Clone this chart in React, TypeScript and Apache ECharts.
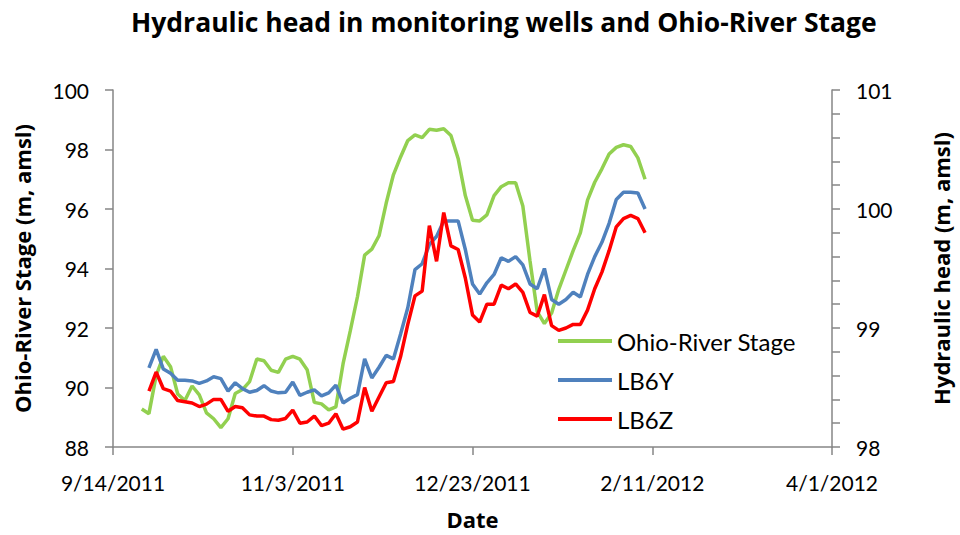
import React, { useEffect, useRef } from "react";
import * as echarts from "echarts";

const dates = [
  "2011-09-22", "2011-09-24", "2011-09-26", "2011-09-28", "2011-09-30",
  "2011-10-02", "2011-10-04", "2011-10-06", "2011-10-08", "2011-10-10",
  "2011-10-12", "2011-10-14", "2011-10-16", "2011-10-18", "2011-10-20",
  "2011-10-22", "2011-10-24", "2011-10-26", "2011-10-28", "2011-10-30",
  "2011-11-01", "2011-11-03", "2011-11-05", "2011-11-07", "2011-11-09",
  "2011-11-11", "2011-11-13", "2011-11-15", "2011-11-17", "2011-11-19",
  "2011-11-21", "2011-11-23", "2011-11-25", "2011-11-27", "2011-11-29",
  "2011-12-01", "2011-12-03", "2011-12-05", "2011-12-07", "2011-12-09",
  "2011-12-11", "2011-12-13", "2011-12-15", "2011-12-17", "2011-12-19",
  "2011-12-21", "2011-12-23", "2011-12-25", "2011-12-27", "2011-12-29",
  "2011-12-31", "2012-01-02", "2012-01-04", "2012-01-06", "2012-01-08",
  "2012-01-10", "2012-01-12", "2012-01-14", "2012-01-16", "2012-01-18",
  "2012-01-20", "2012-01-22", "2012-01-24", "2012-01-26", "2012-01-28",
  "2012-01-30", "2012-02-01", "2012-02-03", "2012-02-05", "2012-02-07",
  "2012-02-09",
];

const riverStage = [
  89.28, 89.12, 90.4, 91.05, 90.7, 89.78, 89.56, 90.05, 89.75, 89.15,
  88.95, 88.65, 88.95, 89.8, 89.93, 90.2, 90.96, 90.9, 90.58, 90.51,
  90.95, 91.05, 90.95, 90.6, 89.5, 89.45, 89.25, 89.35, 90.8, 91.9,
  93.05, 94.45, 94.65, 95.1, 96.2, 97.15, 97.75, 98.3, 98.49, 98.4,
  98.68, 98.65, 98.7, 98.47, 97.7, 96.45, 95.62, 95.6, 95.8, 96.45,
  96.75, 96.88, 96.88, 96.1, 94.25, 92.55, 92.15, 92.5, 93.3, 93.95,
  94.6, 95.2, 96.3, 96.9, 97.35, 97.85, 98.07, 98.16, 98.1, 97.72,
  97.0,
];

const lb6y = [
  null, 98.665, 98.82, 98.655, 98.62, 98.56, 98.56, 98.555, 98.535, 98.555,
  98.59, 98.575, 98.47, 98.54, 98.49, 98.46, 98.475, 98.515, 98.47, 98.455,
  98.46, 98.546, 98.434, 98.46, 98.48, 98.43, 98.455, 98.52, 98.37, 98.41,
  98.44, 98.74, 98.58, 98.67, 98.77, 98.74, 98.95, 99.17, 99.49, 99.54,
  99.7, 99.77, 99.9, 99.9, 99.9, 99.66, 99.37, 99.285, 99.38, 99.45,
  99.59, 99.56, 99.6, 99.53, 99.37, 99.33, 99.5, 99.24, 99.2, 99.24,
  99.3, 99.26, 99.45, 99.6, 99.72, 99.88, 100.08, 100.14, 100.14, 100.135,
  100.0,
];

const lb6z = [
  null, 98.47, 98.63, 98.49, 98.47, 98.39, 98.38, 98.37, 98.34, 98.36,
  98.4, 98.4, 98.3, 98.34, 98.33, 98.27, 98.26, 98.26, 98.23, 98.225,
  98.24, 98.31, 98.2, 98.21, 98.26, 98.18, 98.2, 98.28, 98.15, 98.17,
  98.21, 98.5, 98.3, 98.42, 98.54, 98.55, 98.76, 99.03, 99.27, 99.31,
  99.86, 99.56, 99.97, 99.69, 99.66, 99.42, 99.11, 99.05, 99.2, 99.2,
  99.36, 99.33, 99.37, 99.3, 99.13, 99.1, 99.28, 99.02, 98.98, 99.0,
  99.03, 99.03, 99.15, 99.33, 99.47, 99.65, 99.85, 99.92, 99.946, 99.92,
  99.8,
];

const xAxisStart = "2011-09-14";
const xAxisEnd = "2012-04-01";
const xTickDays = 50;

const FONT = "Lato, 'Open Sans', sans-serif";
const BOLD_FONT = "'Open Sans', Lato, sans-serif";
const AXIS_COLOR = "#868686";

function ts(s: string): number {
  const [y, m, d] = s.split("-").map(Number);
  return Date.UTC(y, m - 1, d);
}

const DAY = 86400000;

function pairs(vals: (number | null)[]) {
  return dates.map((d, i) => [ts(d), vals[i]]);
}

export default function App() {
  const ref = useRef<HTMLDivElement>(null);

  useEffect(() => {
    if (!ref.current) return;
    const chart = echarts.init(ref.current, undefined, { renderer: "svg" });
    const axisCommon = {
      axisLine: { show: true, lineStyle: { color: AXIS_COLOR, width: 1.5 } },
      axisTick: { show: true, length: 8, lineStyle: { color: AXIS_COLOR, width: 1.5 } },
      splitLine: { show: false },
    };
    const nameStyle = { fontFamily: BOLD_FONT, fontWeight: "bold", fontSize: 22, color: "#000" };
    chart.setOption({
      animation: false,
      backgroundColor: "#ffffff",
      title: {
        text: "Hydraulic head in monitoring wells and Ohio-River Stage",
        left: 126,
        top: 3,
        textStyle: { fontFamily: BOLD_FONT, fontWeight: "bold", fontSize: 26.5, color: "#000" },
      },
      grid: { left: 113, right: 127, top: 90, bottom: 86.5, containLabel: false },
      legend: {
        orient: "vertical",
        left: 553,
        top: 324,
        itemWidth: 54,
        itemHeight: 4,
        itemGap: 15,
        icon: "rect",
        textStyle: { fontFamily: FONT, fontSize: 24, color: "#000" },
        data: ["Ohio-River Stage", "LB6Y", "LB6Z"],
      },
      xAxis: {
        type: "value",
        min: ts(xAxisStart),
        max: ts(xAxisEnd),
        interval: xTickDays * DAY,
        ...axisCommon,
        axisLabel: {
          margin: 25,
          fontFamily: FONT,
          fontSize: 21,
          color: "#000",
          formatter: (v: number) => {
            const d = new Date(v);
            return `${d.getUTCMonth() + 1}/${d.getUTCDate()}/${d.getUTCFullYear()}`;
          },
        },
        name: "Date",
        nameLocation: "middle",
        nameGap: 61,
        nameTextStyle: nameStyle,
      },
      yAxis: [
        {
          type: "value",
          position: "left",
          min: 88,
          max: 100,
          interval: 2,
          ...axisCommon,
          axisLabel: { margin: 24, fontFamily: FONT, fontSize: 21, color: "#000" },
          name: "Ohio-River Stage (m, amsl)",
          nameLocation: "middle",
          nameRotate: 90,
          nameGap: 80,
          nameTextStyle: nameStyle,
        },
        {
          type: "value",
          position: "right",
          min: 98,
          max: 101,
          interval: 0.2,
          ...axisCommon,
          axisLabel: {
            margin: 24,
            fontFamily: FONT,
            fontSize: 21,
            color: "#000",
            formatter: (v: number) =>
              Math.abs(v - Math.round(v)) < 1e-6 ? String(Math.round(v)) : "",
          },
          name: "Hydraulic head (m, amsl)",
          nameLocation: "middle",
          nameRotate: 90,
          nameGap: 98,
          nameTextStyle: nameStyle,
        },
      ],
      series: [
        {
          name: "Ohio-River Stage",
          type: "line",
          yAxisIndex: 0,
          data: pairs(riverStage),
          symbol: "none",
          showSymbol: false,
          lineStyle: { color: "#92D050", width: 3.5 },
          itemStyle: { color: "#92D050" },
        },
        {
          name: "LB6Y",
          type: "line",
          yAxisIndex: 1,
          data: pairs(lb6y),
          symbol: "none",
          showSymbol: false,
          lineStyle: { color: "#4F81BD", width: 3.5 },
          itemStyle: { color: "#4F81BD" },
        },
        {
          name: "LB6Z",
          type: "line",
          yAxisIndex: 1,
          data: pairs(lb6z),
          symbol: "none",
          showSymbol: false,
          lineStyle: { color: "#FF0000", width: 3.5 },
          itemStyle: { color: "#FF0000" },
        },
      ],
    });
    return () => chart.dispose();
  }, []);

  return (
    <div
      ref={ref}
      style={{ position: "fixed", left: 0, top: 0, width: 960, height: 535, background: "#fff" }}
    />
  );
}
